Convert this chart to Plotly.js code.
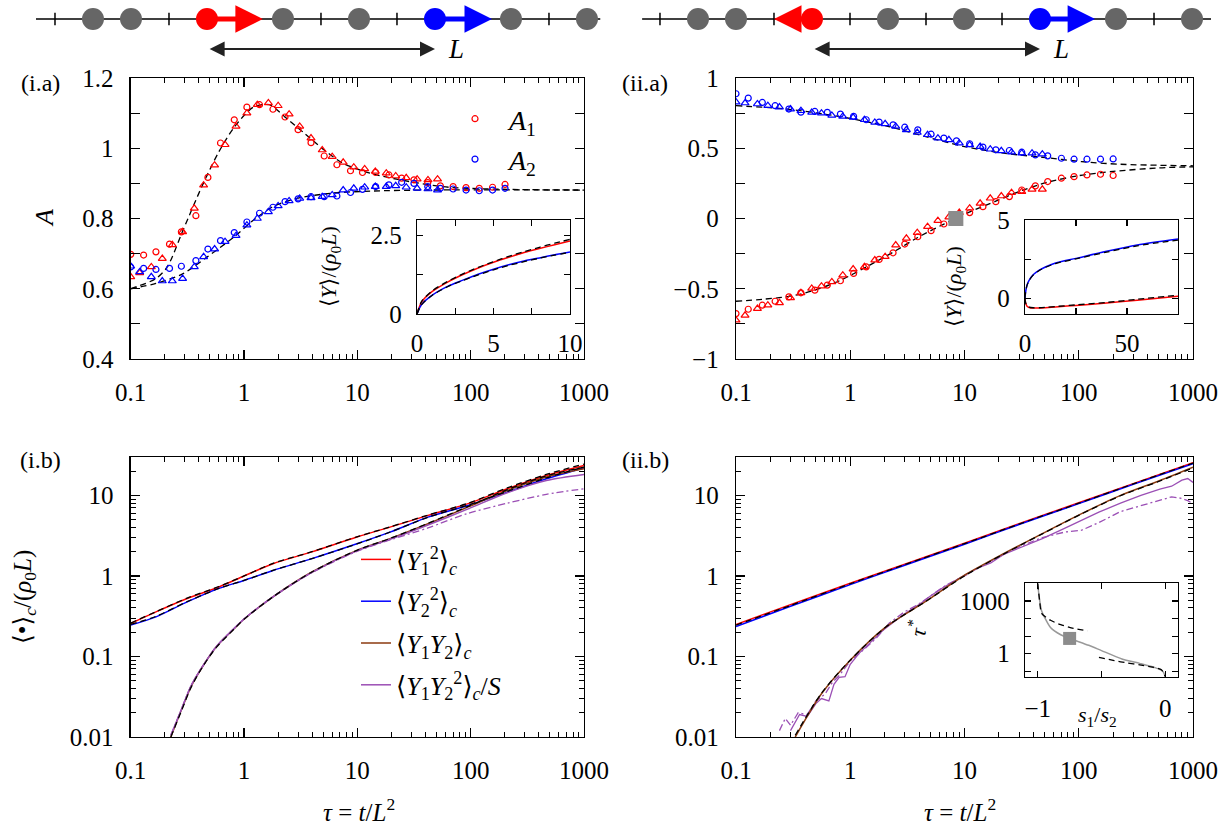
<!DOCTYPE html>
<html>
<head>
<meta charset="utf-8">
<script src="https://cdn.plot.ly/plotly-3.0.1.min.js"></script>
<style>
  html, body { margin: 0; padding: 0; background: #fff; }
  #chart { width: 1222px; height: 825px; }
</style>
</head>
<body>
<div id="chart"></div>
<script>
// ---------- data ----------

// schematic lattice (site index), left (i) and right (ii)
const latticeEndsL = [-0.5, 14.35];
const latticeEndsR = [-0.47, 14.5];
const grayL = [1, 2, 6, 8, 12, 14];
const emptyL = [0, 3, 7, 9, 13];
const grayR = [1, 2, 6, 8, 12, 14];
const emptyR = [0, 3, 5, 7, 9, 13];
const redSite = [4];
const blueSite = [10];
const redTipL = 5.47, redTipR = 3.0, blueTip = 11.5;
const distEnds = [4.03, 10.0];

// (i.a) A vs tau
const iaCircTau = [0.1,0.13,0.167,0.22,0.28,0.376,0.48,0.62,0.82,1.06,1.37,1.8,2.3,3.0,3.9,5.1,6.6,8.7,11.1,14.5,19,24.6,31.6,41.8,54,70,91,119,156,201];
const iaA1Circ = [0.698,0.696,0.705,0.727,0.762,0.808,0.917,1.015,1.081,1.117,1.124,1.111,1.089,1.053,1.016,0.978,0.953,0.936,0.931,0.931,0.924,0.915,0.910,0.902,0.893,0.891,0.888,0.886,0.889,0.897];
const iaA2Circ = [0.662,0.658,0.655,0.658,0.664,0.68,0.713,0.737,0.76,0.79,0.815,0.832,0.848,0.856,0.862,0.862,0.864,0.874,0.883,0.891,0.896,0.903,0.9,0.891,0.886,0.884,0.881,0.879,0.881,0.886];
const iaTriTau = [0.1,0.12,0.152,0.19,0.233,0.287,0.364,0.44,0.55,0.68,0.85,1.06,1.31,1.64,2.0,2.5,3.1,3.9,4.9,6.0,7.5,9.3,11.6,14.4,18,21.8,27,33.7,42,51];
const iaA1Tri = [0.634,0.645,0.662,0.686,0.725,0.762,0.829,0.895,0.952,1.01,1.062,1.10,1.124,1.129,1.121,1.097,1.062,1.029,0.995,0.976,0.96,0.946,0.941,0.934,0.929,0.921,0.916,0.912,0.91,0.912];
const iaA2Tri = [0.664,0.648,0.634,0.622,0.622,0.629,0.662,0.691,0.713,0.734,0.751,0.781,0.80,0.819,0.836,0.85,0.857,0.859,0.862,0.867,0.881,0.886,0.889,0.891,0.891,0.893,0.889,0.886,0.884,0.881];
const iaTh1Tau = [0.1,0.167,0.21,0.29,0.43,0.6,0.82,1.21,1.67,2.28,3.4,5.1,7.5,13,29,64,210,1000];
const iaTh1 = [0.60,0.629,0.662,0.767,0.895,0.99,1.06,1.117,1.124,1.09,1.043,0.995,0.957,0.929,0.905,0.889,0.883,0.881];
const iaTh2Tau = [0.1,0.167,0.29,0.47,0.82,1.21,1.8,2.9,5.9,13,43,1000];
const iaTh2 = [0.60,0.615,0.643,0.69,0.748,0.795,0.834,0.857,0.872,0.878,0.881,0.881];

// (i.a) inset <Y>/(rho0 L) vs tau
const insIaTau = [0,0.3,1,2,3,4,5,6,7,8,9,10];
const insIaY1 = [0,0.38,0.72,1.02,1.26,1.47,1.65,1.81,1.96,2.09,2.21,2.33];
const insIaY2 = [0,0.3,0.6,0.88,1.08,1.27,1.43,1.57,1.69,1.79,1.89,1.98];
const insIaTh1 = [0,0.4,0.74,1.04,1.28,1.49,1.67,1.84,1.99,2.13,2.26,2.38];
const insIaTh2 = [0,0.3,0.6,0.87,1.07,1.25,1.41,1.55,1.67,1.78,1.88,1.97];

// (ii.a) A vs tau
const iiaCircTau = [0.1,0.128,0.17,0.22,0.29,0.37,0.49,0.63,0.82,1.07,1.38,1.79,2.37,3.0,3.9,5.1,6.6,8.5,11.1,14.5,18.8,24.7,31.7,41.7,53.5,70.5,91,118,155,200];
const iiaA1Circ = [-0.677,-0.646,-0.617,-0.589,-0.558,-0.529,-0.51,-0.474,-0.443,-0.391,-0.344,-0.291,-0.244,-0.182,-0.13,-0.087,-0.039,0.0,0.042,0.084,0.12,0.156,0.203,0.232,0.263,0.287,0.298,0.31,0.315,0.306];
const iiaA2Circ = [0.888,0.857,0.826,0.803,0.779,0.757,0.762,0.755,0.743,0.727,0.703,0.686,0.667,0.65,0.631,0.6,0.572,0.553,0.532,0.508,0.489,0.484,0.472,0.453,0.446,0.429,0.422,0.422,0.422,0.424];
const iiaTriTau = [0.1,0.12,0.154,0.19,0.24,0.3,0.37,0.46,0.56,0.69,0.86,1.06,1.33,1.64,2.02,2.5,3.1,3.86,4.75,5.85,7.3,9.0,11.1,13.7,16.8,21,25.8,31.7,39,48];
const iiaA1Tri = [-0.724,-0.689,-0.641,-0.617,-0.6,-0.565,-0.529,-0.498,-0.482,-0.451,-0.403,-0.36,-0.344,-0.296,-0.272,-0.189,-0.141,-0.101,-0.058,-0.015,0.01,0.042,0.073,0.108,0.144,0.16,0.184,0.191,0.208,0.208];
const iiaA2Tri = [0.829,0.822,0.815,0.803,0.793,0.779,0.767,0.755,0.75,0.734,0.727,0.72,0.703,0.684,0.674,0.655,0.631,0.612,0.596,0.572,0.56,0.536,0.524,0.512,0.493,0.482,0.472,0.465,0.465,0.458];
const iiaTh1Tau = [0.1,0.17,0.29,0.49,0.82,1.38,2.37,3.9,6.6,11,19,32,53,100,200,500,1000];
const iiaTh1 = [-0.589,-0.575,-0.555,-0.51,-0.44,-0.345,-0.24,-0.135,-0.04,0.045,0.125,0.2,0.258,0.305,0.335,0.36,0.368];
const iiaTh2Tau = [0.1,0.28,0.79,2.05,4.5,10,21.9,48,106,232,1000];
const iiaTh2 = [0.803,0.779,0.727,0.66,0.584,0.512,0.465,0.436,0.405,0.386,0.375];
const tauStar = [8.4];
const aStar = [0.0];

// (ii.a) inset
const insIiaTau = [0,0.3,1,2,4,7,10,15,25,40,55,75];
const insIiaY2 = [0,0.4,0.85,1.15,1.5,1.8,2.0,2.25,2.55,3.0,3.4,3.78];
const insIiaY1 = [0,-0.3,-0.5,-0.58,-0.62,-0.62,-0.6,-0.55,-0.45,-0.3,-0.12,0.13];
const insIiaTh2 = [0,0.4,0.83,1.13,1.48,1.78,1.98,2.22,2.52,2.95,3.35,3.72];
const insIiaTh1 = [0,-0.28,-0.48,-0.56,-0.6,-0.6,-0.58,-0.52,-0.42,-0.26,-0.06,0.2];

// (i.b) cumulants
const ibTau = [0.1,0.167,0.315,0.6,1,1.8,3.97,9.9,19.4,42,95,210,465,1000];
const ibY1 = [0.257,0.358,0.525,0.73,1.0,1.42,1.99,3.04,4.04,5.65,7.9,12.1,17.7,23.6];
const ibY2 = [0.245,0.31,0.476,0.70,0.88,1.17,1.64,2.51,3.5,5.38,7.5,11,16.1,22];
const ibTh1 = [0.26,0.36,0.53,0.74,1.0,1.43,2.0,3.06,4.06,5.7,8.0,12.4,18.2,24.5];
const ibTh2 = [0.25,0.315,0.48,0.70,0.88,1.17,1.64,2.5,3.5,5.35,7.6,11.2,16.5,22.6];
const ib12Tau = [0.226,0.28,0.34,0.43,0.57,0.82,1.0,1.8,3.97,9.9,19.4,42,95,210,465,1000];
const ibY12 = [0.01,0.0216,0.042,0.0745,0.132,0.222,0.29,0.55,1.12,2.08,2.9,4.45,7.2,11.5,16.9,21.4];
const ibTh12 = [0.01,0.021,0.041,0.074,0.13,0.22,0.29,0.55,1.12,2.08,2.92,4.5,7.3,11.8,17.5,22.5];
const ibY122 = [0.0105,0.022,0.043,0.075,0.133,0.224,0.292,0.55,1.11,2.05,2.85,4.3,6.8,10.8,15.3,18.2];
const ibY122dd = [0.0105,0.022,0.043,0.075,0.133,0.224,0.292,0.55,1.1,2.02,2.8,3.95,6.0,8.0,10.3,12.1];

// (ii.b) cumulants
const iibTau = [0.1,0.3,1,3,10,30,100,300,1000];
const iibY1 = [0.25,0.44,0.81,1.4,2.55,4.45,8.1,14,25.5];
const iibY2 = [0.235,0.42,0.78,1.36,2.48,4.35,7.9,13.7,24.8];
const iibTh = [0.245,0.43,0.8,1.38,2.52,4.4,8.0,13.9,25.2];
const iib12Tau = [0.33,0.56,1.0,2.05,4.5,10,22,48,106,232,513,1000];
const iibY12 = [0.01,0.0344,0.09,0.233,0.476,1.02,1.89,3.35,5.93,10,15.3,22.4];
const iibTh12 = [0.0105,0.035,0.09,0.232,0.475,1.0,1.87,3.33,5.9,9.9,15.1,22.0];
const iibSTau = [0.3,0.36,0.42,0.5,0.56,0.65,0.72,0.8,0.9,1.0,1.2,1.5,2,2.5,3,4,5,6.5,8,10,13,17,22,30,48,75,106,150,232,350,513,650,800,900,1000];
const iibY122 = [0.012,0.019,0.018,0.026,0.03,0.028,0.045,0.055,0.056,0.08,0.11,0.15,0.22,0.28,0.34,0.44,0.56,0.72,0.86,1.02,1.25,1.45,1.85,2.2,2.9,3.9,4.9,6.2,8.0,10,12,13,15.5,16.2,14.5];
const iibDTau = [0.24,0.27,0.3,0.35,0.42,0.5,0.6,0.7,0.8,1.0,1.3,1.7,2.2,3,4,5.5,7,10,15,22,30,48,75,106,150,232,350,513,650,800,900,1000];
const iibY122dd = [0.012,0.017,0.014,0.02,0.019,0.028,0.034,0.048,0.058,0.088,0.12,0.17,0.26,0.36,0.45,0.62,0.78,1.0,1.4,1.85,2.3,3.0,3.5,3.7,4.6,6.3,7.5,8.8,9.6,9.2,8.6,7.9];

// (ii.b) inset tau* vs s1/s2
const insIibS = [-1.0,-0.99,-0.97,-0.9,-0.82,-0.75,-0.6,-0.5,-0.34,-0.2,-0.08,-0.02,0];
const insIibTau = [1e4,2000,280,31,12,7.4,3,1.5,0.5,0.28,0.16,0.1,0.05];
const insIibUpS = [-1.0,-0.985,-0.97,-0.9,-0.82,-0.72,-0.61];
const insIibUp = [1e4,1000,200,80,45,28,20];
const insIibLoS = [-0.52,-0.4,-0.3,-0.2,-0.1,-0.03,0];
const insIibLo = [0.62,0.4,0.3,0.23,0.17,0.12,0.05];
const sStar = [-0.75];
const tauStarIns = [7.4];

// ---------- styling ----------
const W = 1222, H = 825;
const px = v => v / W;
const py = v => 1 - v / H;
const SERIF = 'Liberation Serif, DejaVu Serif, serif';
const RED = '#ff0000', BLUE = '#0000ff', BROWN = '#8b3a0f', PURPLE = '#9b4fb5', GRAY = '#666666', SQ = '#8c8c8c';
const FS = 25;

function logMinor(lo, hi) {
  const v = [];
  for (let e = lo; e < hi; e++) for (let k = 2; k < 10; k++) v.push(k * Math.pow(10, e));
  return v;
}

function frame(extra) {
  return Object.assign({
    showline: true, mirror: 'ticks', linecolor: 'black', linewidth: 1.3,
    ticks: 'inside', ticklen: 9, tickwidth: 1.2, tickcolor: 'black',
    showgrid: false, zeroline: false, fixedrange: true,
    tickfont: {family: SERIF, size: FS, color: 'black'},
    ticklabelstandoff: 11
  }, extra);
}

const tauAxis = (dom, anchor) => frame({
  type: 'log', range: [-1, 3], domain: dom, anchor: anchor,
  tickvals: [0.1, 1, 10, 100, 1000], ticktext: ['0.1', '1', '10', '100', '1000'],
  minor: {tickmode: 'array', tickvals: logMinor(-1, 3), ticks: 'inside', ticklen: 5, tickwidth: 1, tickcolor: 'black'}
});

const colL = [px(130.7), px(584)];
const colR = [px(736), px(1193)];
const rowT = [py(359), py(78)];
const rowB = [py(737), py(457)];

const dashTh = {color: 'black', width: 1.3, dash: '6px,4px'};
const t = (x, y, xa, ya, extra) => Object.assign({x: x, y: y, xaxis: xa, yaxis: ya, type: 'scatter', showlegend: false, hoverinfo: 'skip'}, extra);
const lineOf = (color, width, dash) => ({mode: 'lines', line: {color: color, width: width || 1.5, dash: dash || 'solid', shape: 'spline', smoothing: 0.8}});
const thLine = () => ({mode: 'lines', line: Object.assign({shape: 'spline', smoothing: 0.8}, dashTh)});
const circ = color => ({mode: 'markers', marker: {symbol: 'circle-open', size: 6, color: color, line: {width: 1.2, color: color}}});
const tri = color => ({mode: 'markers', marker: {symbol: 'triangle-up-open', size: 7, color: color, line: {width: 1.2, color: color}}});

const traces = [
  // schematic left
  t(latticeEndsL, [0, 0], 'x8', 'y8', {mode: 'lines', line: {color: 'black', width: 1.5}}),
  t(emptyL, emptyL.map(() => 0), 'x8', 'y8', {mode: 'markers', marker: {symbol: 'line-ns', size: 9, line: {width: 1.5, color: 'black'}}}),
  t(grayL, grayL.map(() => 0), 'x8', 'y8', {mode: 'markers', marker: {size: 22, color: GRAY}}),
  t(redSite, [0], 'x8', 'y8', {mode: 'markers', marker: {size: 22, color: RED}}),
  t(blueSite, [0], 'x8', 'y8', {mode: 'markers', marker: {size: 22, color: BLUE}}),
  // schematic right
  t(latticeEndsR, [0, 0], 'x9', 'y9', {mode: 'lines', line: {color: 'black', width: 1.5}}),
  t(emptyR, emptyR.map(() => 0), 'x9', 'y9', {mode: 'markers', marker: {symbol: 'line-ns', size: 9, line: {width: 1.5, color: 'black'}}}),
  t(grayR, grayR.map(() => 0), 'x9', 'y9', {mode: 'markers', marker: {size: 22, color: GRAY}}),
  t(redSite, [0], 'x9', 'y9', {mode: 'markers', marker: {size: 22, color: RED}}),
  t(blueSite, [0], 'x9', 'y9', {mode: 'markers', marker: {size: 22, color: BLUE}}),

  // (i.a)
  t(iaTh1Tau, iaTh1, 'x', 'y', thLine()),
  t(iaTh2Tau, iaTh2, 'x', 'y', thLine()),
  t(iaCircTau, iaA1Circ, 'x', 'y', Object.assign(circ(RED), {name: '<i>A</i><sub>1</sub>', showlegend: true, legend: 'legend', legendgroup: 'a1'})),
  t(iaTriTau, iaA1Tri, 'x', 'y', tri(RED)),
  t(iaCircTau, iaA2Circ, 'x', 'y', Object.assign(circ(BLUE), {name: '<i>A</i><sub>2</sub>', showlegend: true, legend: 'legend', legendgroup: 'a2'})),
  t(iaTriTau, iaA2Tri, 'x', 'y', tri(BLUE)),
  // (i.a) inset
  t(insIaTau, insIaY1, 'x5', 'y5', lineOf(RED, 1.5)),
  t(insIaTau, insIaY2, 'x5', 'y5', lineOf(BLUE, 1.5)),
  t(insIaTau, insIaTh1, 'x5', 'y5', thLine()),
  t(insIaTau, insIaTh2, 'x5', 'y5', thLine()),

  // (ii.a)
  t(iiaTh1Tau, iiaTh1, 'x2', 'y2', thLine()),
  t(iiaTh2Tau, iiaTh2, 'x2', 'y2', thLine()),
  t(iiaCircTau, iiaA1Circ, 'x2', 'y2', circ(RED)),
  t(iiaTriTau, iiaA1Tri, 'x2', 'y2', tri(RED)),
  t(iiaCircTau, iiaA2Circ, 'x2', 'y2', circ(BLUE)),
  t(iiaTriTau, iiaA2Tri, 'x2', 'y2', tri(BLUE)),
  t(tauStar, aStar, 'x2', 'y2', {mode: 'markers', marker: {symbol: 'square', size: 15, color: SQ}}),
  // (ii.a) inset
  t(insIiaTau, insIiaY2, 'x6', 'y6', lineOf(BLUE, 1.5)),
  t(insIiaTau, insIiaY1, 'x6', 'y6', lineOf(RED, 1.5)),
  t(insIiaTau, insIiaTh2, 'x6', 'y6', thLine()),
  t(insIiaTau, insIiaTh1, 'x6', 'y6', thLine()),

  // (i.b)
  t(ibTau, ibY1, 'x3', 'y3', Object.assign(lineOf(RED, 1.5), {name: '⟨<i>Y</i><sub>1</sub><sup>2</sup>⟩<sub><i>c</i></sub>', showlegend: true, legend: 'legend2', legendgroup: 'g1'})),
  t(ibTau, ibY2, 'x3', 'y3', Object.assign(lineOf(BLUE, 1.5), {name: '⟨<i>Y</i><sub>2</sub><sup>2</sup>⟩<sub><i>c</i></sub>', showlegend: true, legend: 'legend2', legendgroup: 'g2'})),
  t(ib12Tau, ibY12, 'x3', 'y3', Object.assign(lineOf(BROWN, 1.5), {name: '⟨<i>Y</i><sub>1</sub><i>Y</i><sub>2</sub>⟩<sub><i>c</i></sub>', showlegend: true, legend: 'legend2', legendgroup: 'g3'})),
  t(ib12Tau, ibY122, 'x3', 'y3', Object.assign(lineOf(PURPLE, 1.5), {name: '⟨<i>Y</i><sub>1</sub><i>Y</i><sub>2</sub><sup>2</sup>⟩<sub><i>c</i></sub>/<i>S</i>', showlegend: true, legend: 'legend2', legendgroup: 'g4'})),
  t(ib12Tau, ibY122dd, 'x3', 'y3', lineOf(PURPLE, 1.3, '7px,3px,2px,3px')),
  t(ibTau, ibTh1, 'x3', 'y3', thLine()),
  t(ibTau, ibTh2, 'x3', 'y3', thLine()),
  t(ib12Tau, ibTh12, 'x3', 'y3', thLine()),

  // (ii.b)
  t(iibTau, iibY1, 'x4', 'y4', lineOf(RED, 1.5)),
  t(iibTau, iibY2, 'x4', 'y4', lineOf(BLUE, 1.5)),
  t(iibSTau, iibY122, 'x4', 'y4', {mode: 'lines', line: {color: PURPLE, width: 1.3}}),
  t(iibDTau, iibY122dd, 'x4', 'y4', {mode: 'lines', line: {color: PURPLE, width: 1.3, dash: '7px,3px,2px,3px'}}),
  t(iib12Tau, iibY12, 'x4', 'y4', lineOf(BROWN, 1.5)),
  t(iibTau, iibTh, 'x4', 'y4', thLine()),
  t(iib12Tau, iibTh12, 'x4', 'y4', thLine()),
  // (ii.b) inset
  t(insIibS, insIibTau, 'x7', 'y7', {mode: 'lines', line: {color: '#999999', width: 1.5, shape: 'spline', smoothing: 0.6}}),
  t(insIibUpS, insIibUp, 'x7', 'y7', {mode: 'lines', line: {color: 'black', width: 1.3, dash: '6px,4px', shape: 'spline', smoothing: 0.6}}),
  t(insIibLoS, insIibLo, 'x7', 'y7', {mode: 'lines', line: {color: 'black', width: 1.3, dash: '6px,4px', shape: 'spline', smoothing: 0.6}}),
  t(sStar, tauStarIns, 'x7', 'y7', {mode: 'markers', marker: {symbol: 'square', size: 13, color: SQ}})
];

// ---------- layout ----------
const insetTick = {tickfont: {family: SERIF, size: FS, color: 'black'}, ticklen: 6, ticklabelstandoff: 9};

const layout = {
  width: W, height: H,
  margin: {l: 0, r: 0, t: 0, b: 0},
  paper_bgcolor: 'white', plot_bgcolor: 'rgba(0,0,0,0)',
  font: {family: SERIF, color: 'black', size: FS},
  xaxis: tauAxis(colL, 'y'),
  yaxis: frame({domain: rowT, anchor: 'x', range: [0.4, 1.2],
    tickvals: [0.4,0.5,0.6,0.7,0.8,0.9,1.0,1.1,1.2], ticktext: ['0.4','','0.6','','0.8','','1','','1.2']}),
  xaxis2: tauAxis(colR, 'y2'),
  yaxis2: frame({domain: rowT, anchor: 'x2', range: [-1, 1],
    tickvals: [-1,-0.75,-0.5,-0.25,0,0.25,0.5,0.75,1], ticktext: ['−1','','−0.5','','0','','0.5','','1']}),
  xaxis3: tauAxis(colL, 'y3'),
  yaxis3: frame({domain: rowB, anchor: 'x3', type: 'log', range: [-2, Math.log10(30)],
    tickvals: [0.01, 0.1, 1, 10], ticktext: ['0.01', '0.1', '1', '10'],
    minor: {tickmode: 'array', tickvals: logMinor(-2, 2), ticks: 'inside', ticklen: 5, tickwidth: 1, tickcolor: 'black'}}),
  xaxis4: tauAxis(colR, 'y4'),
  yaxis4: frame({domain: rowB, anchor: 'x4', type: 'log', range: [-2, Math.log10(30)],
    tickvals: [0.01, 0.1, 1, 10], ticktext: ['0.01', '0.1', '1', '10'],
    minor: {tickmode: 'array', tickvals: logMinor(-2, 2), ticks: 'inside', ticklen: 5, tickwidth: 1, tickcolor: 'black'}}),
  // insets
  xaxis5: frame(Object.assign({domain: [px(417), px(570)], anchor: 'y5', range: [0, 10],
    tickvals: [0, 2.5, 5, 7.5, 10], ticktext: ['0', '', '5', '', '10']}, insetTick, {ticklabelstandoff: 7})),
  yaxis5: frame(Object.assign({domain: [py(314), py(220)], anchor: 'x5', range: [0, 3],
    tickvals: [0, 1.25, 2.5], ticktext: ['0', '', '2.5']}, insetTick)),
  xaxis6: frame(Object.assign({domain: [px(1025), px(1178)], anchor: 'y6', range: [0, 75],
    tickvals: [0, 25, 50, 75], ticktext: ['0', '', '50', '']}, insetTick, {ticklabelstandoff: 7})),
  yaxis6: frame(Object.assign({domain: [py(314), py(220)], anchor: 'x6', range: [-1, 5],
    tickvals: [0, 2.5, 5], ticktext: ['0', '', '5']}, insetTick)),
  xaxis7: frame(Object.assign({domain: [px(1025), px(1178)], anchor: 'y7', range: [-1.1, 0.1],
    tickvals: [-1, -0.5, 0], ticktext: ['−1', '', '0']}, insetTick, {ticklabelstandoff: 9})),
  yaxis7: frame(Object.assign({domain: [py(677), py(583)], anchor: 'x7', type: 'log', range: [-1.33, 4.03],
    tickvals: [0.1, 1, 10, 100, 1000], ticktext: ['', '1', '', '', '1000']}, insetTick)),
  // schematics
  xaxis8: {domain: [0, 0.5], anchor: 'y8', range: [-1.447, 14.632], visible: false, fixedrange: true},
  yaxis8: {domain: [py(70), 1], anchor: 'x8', range: [-1.7, 0.633], visible: false, fixedrange: true},
  xaxis9: {domain: [0.5, 1], anchor: 'y9', range: [-1.289, 14.789], visible: false, fixedrange: true},
  yaxis9: {domain: [py(70), 1], anchor: 'x9', range: [-1.7, 0.633], visible: false, fixedrange: true},

  legend: {x: px(441), y: py(94), xanchor: 'left', yanchor: 'top', bgcolor: 'rgba(0,0,0,0)', itemwidth: 58,
    font: {family: SERIF, size: 28, color: 'black'}, tracegroupgap: 1, traceorder: 'grouped'},
  legend2: {x: px(356), y: py(536), xanchor: 'left', yanchor: 'top', bgcolor: 'rgba(0,0,0,0)',
    font: {family: SERIF, size: 26, color: 'black'}, tracegroupgap: 5, traceorder: 'grouped'},
  showlegend: true,
  annotations: []
};

// arrows in the schematics
function arrow(xa, ya, from, to, color, w, size, both) {
  return {xref: xa, yref: ya, axref: xa, ayref: ya, x: to[0], y: to[1], ax: from[0], ay: from[1],
    text: '', showarrow: true, arrowhead: 2, arrowsize: size, arrowwidth: w, arrowcolor: color,
    arrowside: both ? 'end+start' : 'end', startarrowhead: 2, startarrowsize: size, standoff: 0, startstandoff: 0};
}
layout.annotations.push(
  arrow('x8', 'y8', [redSite[0], 0], [redTipL, 0], RED, 5, 1.1),
  arrow('x8', 'y8', [blueSite[0], 0], [blueTip, 0], BLUE, 5, 1.1),
  arrow('x8', 'y8', [distEnds[0], -1], [distEnds[1], -1], '#222', 2, 1.5, true),
  arrow('x9', 'y9', [redSite[0], 0], [redTipR, 0], RED, 5, 1.1),
  arrow('x9', 'y9', [blueSite[0], 0], [blueTip - 0.05, 0], BLUE, 5, 1.1),
  arrow('x9', 'y9', [distEnds[0], -1], [distEnds[1], -1], '#222', 2, 1.5, true)
);

function label(x, y, text, size, extra) {
  return Object.assign({xref: 'paper', yref: 'paper', x: px(x), y: py(y), text: text, showarrow: false,
    xanchor: 'center', yanchor: 'middle', font: {family: SERIF, size: size, color: 'black'}}, extra);
}
layout.annotations.push(
  {xref: 'x8', yref: 'y8', x: 10.3, y: -1, text: '<i>L</i>', showarrow: false, xanchor: 'left', yanchor: 'middle', font: {family: SERIF, size: 27, color: 'black'}},
  {xref: 'x9', yref: 'y9', x: 10.3, y: -1, text: '<i>L</i>', showarrow: false, xanchor: 'left', yanchor: 'middle', font: {family: SERIF, size: 27, color: 'black'}},
  label(40, 83, '(i.a)', 24),
  label(645, 83, '(ii.a)', 24),
  label(40, 460, '(i.b)', 24),
  label(645, 460, '(ii.b)', 24),
  label(45, 218, '<i>A</i>', 26, {textangle: -90}),
  label(24, 597, '⟨•⟩<sub><i>c</i></sub>/(<i>ρ</i><sub>0</sub><i>L</i>)', 25, {textangle: -90}),
  label(359, 810, '<i>τ</i> = <i>t</i>/<i>L</i><sup>2</sup>', 25),
  label(960, 810, '<i>τ</i> = <i>t</i>/<i>L</i><sup>2</sup>', 25),
  label(330, 267, '⟨<i>Y</i>⟩/(<i>ρ</i><sub>0</sub><i>L</i>)', 22, {textangle: -90}),
  label(955, 287, '⟨<i>Y</i>⟩/(<i>ρ</i><sub>0</sub><i>L</i>)', 22, {textangle: -90}),
  label(917, 628, '<i>τ</i><sup>*</sup>', 22, {textangle: -80}),
  label(1097, 716, '<i>s</i><sub>1</sub>/<i>s</i><sub>2</sub>', 22)
);

Plotly.newPlot('chart', traces, layout, {displayModeBar: false, staticPlot: true});
</script>
</body>
</html>
